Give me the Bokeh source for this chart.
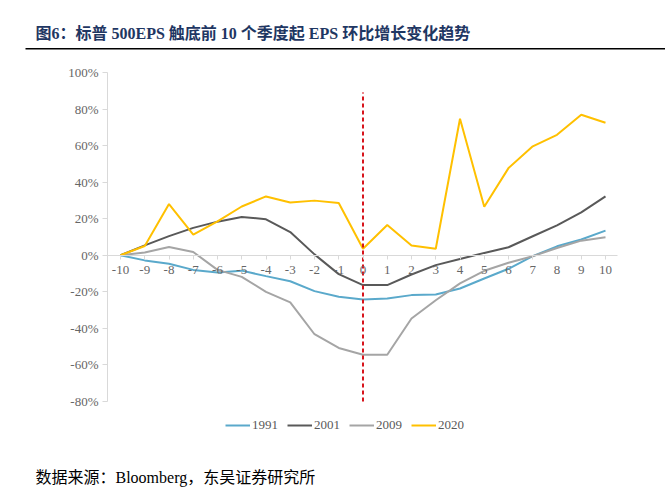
from bokeh.plotting import figure
from bokeh.models import (Range1d, FixedTicker, PrintfTickFormatter, Legend, LegendItem, Label)
from bokeh.embed import file_html
from bokeh.resources import INLINE

# ---- data ----
quarters = list(range(-10, 11))
s1991 = [0, -2.8, -4.6, -8.0, -9.4, -8.4, -11.4, -14.2, -19.6, -22.7, -24.2, -23.7, -21.8, -21.5, -18.2, -12.7, -7.4, -0.5, 4.9, 8.6, 13.5]
s2001 = [0, 5.4, 10.5, 15.0, 18.4, 21.0, 19.7, 12.7, 0.5, -10.3, -16.3, -16.3, -10.5, -5.4, -2.0, 1.3, 4.4, 10.4, 16.4, 23.5, 32.2]
s2009 = [0, 1.5, 4.5, 1.8, -8.0, -11.8, -20.0, -25.8, -43.2, -50.7, -54.4, -54.4, -34.6, -24.6, -15.4, -8.5, -4.1, -0.5, 4.0, 8.0, 9.8]
s2020 = [0, 5.1, 28.0, 11.3, 18.5, 26.7, 32.2, 28.9, 29.9, 28.6, 3.6, 16.6, 5.3, 3.6, 74.7, 26.6, 47.7, 59.6, 65.9, 76.9, 72.5]
series_names = ["1991", "2001", "2009", "2020"]
y_ticks = [-80, -60, -40, -20, 0, 20, 40, 60, 80, 100]
trough_quarter = [0, 0]
trough_span = [-80, 89]

title_text = "图6：标普 500EPS 触底前 10 个季度起 EPS 环比增长变化趋势"
source_text = "数据来源：Bloomberg，东吴证券研究所"

colors = ["#5AA9CB", "#595959", "#A5A5A5", "#FFC000"]
serif = "Liberation Serif"
mixed = "Liberation Serif, Noto Sans CJK SC"

# ---- layout geometry (pixels) ----
W, H = 665, 496
PX_PER_Q = 24.25          # pixels per quarter
PX_PER_PCT = 329 / 180.0  # pixels per percent
X0_PX, Y100_PX = 120, 72  # pixel of quarter -10 and of 100%
x_min = -10 - X0_PX / PX_PER_Q
x_max = x_min + W / PX_PER_Q
y_max = 100 + Y100_PX / PX_PER_PCT
y_min = y_max - H / PX_PER_PCT


def px_x(px):
    return x_min + px / PX_PER_Q


def px_y(py):
    return y_max - py / PX_PER_PCT


p = figure(width=W, height=H, output_backend="svg", toolbar_location=None,
           x_range=Range1d(x_min, x_max), y_range=Range1d(y_min, y_max), min_border=0)
p.outline_line_color = None
p.xgrid.visible = False
p.ygrid.visible = False
p.background_fill_color = "white"

# y axis (fixed at the plot's left edge)
p.yaxis.fixed_location = px_x(107)
p.yaxis.bounds = (-80, 100)
p.yaxis.ticker = FixedTicker(ticks=y_ticks)
p.yaxis.formatter = PrintfTickFormatter(format="%d%%")
p.yaxis.axis_line_color = "#D9D9D9"
p.yaxis.major_tick_line_color = "#D9D9D9"
p.yaxis.major_tick_out = 5
p.yaxis.major_tick_in = 0
p.yaxis.minor_tick_line_color = None
p.yaxis.major_label_text_font = serif
p.yaxis.major_label_text_font_size = "13px"
p.yaxis.major_label_text_color = "#666666"
p.yaxis.major_label_standoff = 4

# x axis at y = 0
p.xaxis.fixed_location = 0
p.xaxis.bounds = (px_x(107), px_x(617))
p.xaxis.ticker = FixedTicker(ticks=quarters)
p.xaxis.formatter = PrintfTickFormatter(format="%d")
p.xaxis.axis_line_color = "#D9D9D9"
p.xaxis.major_tick_line_color = "#D9D9D9"
p.xaxis.major_tick_out = 4
p.xaxis.major_tick_in = 0
p.xaxis.minor_tick_line_color = None
p.xaxis.major_label_text_font = serif
p.xaxis.major_label_text_font_size = "13px"
p.xaxis.major_label_text_color = "#666666"
p.xaxis.major_label_standoff = 7

renderers = []
for name, vals, c in zip(series_names, [s1991, s2001, s2009, s2020], colors):
    r = p.line(quarters, vals, line_color=c, line_width=2)
    renderers.append(r)

p.line(trough_quarter, trough_span, line_color="#D7141C", line_width=2, line_dash="4 3")

legend = Legend(items=[LegendItem(label=n, renderers=[r]) for n, r in zip(series_names, renderers)],
                orientation="horizontal", location=(225, 63))
legend.label_text_font = serif
legend.label_text_font_size = "13px"
legend.label_text_color = "#595959"
legend.glyph_width = 25
legend.glyph_height = 12
legend.label_standoff = 2
legend.spacing = 9
legend.border_line_color = None
legend.background_fill_alpha = 0
legend.padding = 0
legend.margin = 0
p.add_layout(legend)

# title, underline and source note
p.add_layout(Label(x=px_x(35), y=px_y(33), text=title_text, text_font=mixed,
                   text_font_size="16px", text_font_style="bold", text_color="#1F3763",
                   text_baseline="middle"))
p.line([px_x(25), px_x(W)], [px_y(48.3), px_y(48.3)], line_color="#000000", line_width=1.6)
p.add_layout(Label(x=px_x(35), y=px_y(477), text=source_text, text_font=mixed,
                   text_font_size="16px", text_color="#000000", text_baseline="middle"))

open("out.html", "w").write(file_html(p, INLINE))
